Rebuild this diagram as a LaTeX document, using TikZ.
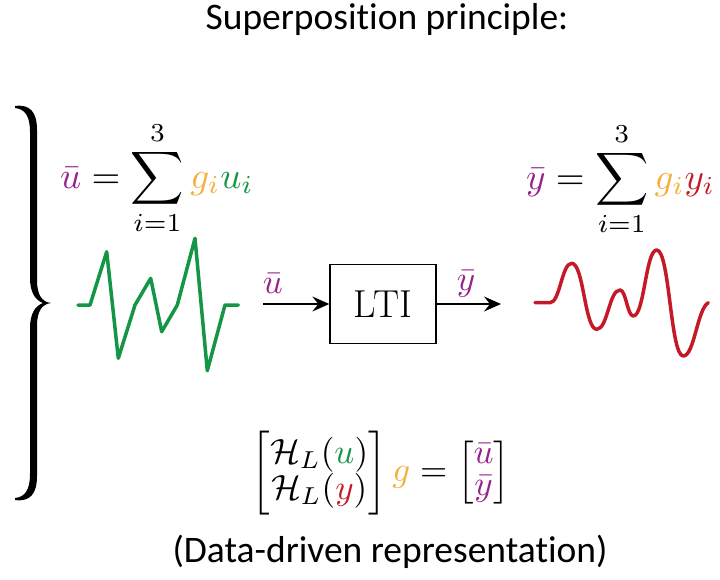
\documentclass[tikz,border=0pt]{standalone}
\usepackage{amsmath}
\usepackage{graphicx}
\usepackage{fontspec}
\setsansfont{Carlito}[Ligatures=NoCommon]
\usetikzlibrary{arrows.meta}
\definecolor{cpurple}{RGB}{150,35,140}
\definecolor{corange}{RGB}{245,175,60}
\definecolor{cgreen}{RGB}{20,150,70}
\definecolor{cred}{RGB}{195,25,40}
\begin{document}
\begin{tikzpicture}[x=1pt,y=-1pt,
  titletext/.style={font=\sffamily\fontsize{37.5}{44}\selectfont, inner sep=0pt},
  mathnode/.style={inner sep=0pt},
  sigline/.style={line width=3.5pt, line join=round, line cap=round},
  arr/.style={line width=1.4pt, -{Stealth[length=17pt,width=15pt,inset=6pt]}},
  ltibox/.style={draw, line width=1.3pt, minimum width=106pt, minimum height=79pt, inner sep=0pt, font=\fontsize{39}{46}\selectfont}]
\useasboundingbox (0,0) rectangle (720,579);

% title and caption
\node[titletext, anchor=base] (title) at (387,29) {Superposition principle:};
\node[titletext, anchor=base] (caption) at (390,562) {(Data-driven representation)};

% brace
\fill[black] (15,106) .. controls (30,104) and (37,112) .. (37,130)
  -- (37,280) .. controls (37,295) and (42,302) .. (51,303)
  .. controls (42,304) and (37,311) .. (37,326)
  -- (37,476) .. controls (37,494) and (30,502) .. (15,500)
  -- (15,498) .. controls (25,497) and (30,490) .. (30,474)
  -- (30,328) .. controls (30,314) and (35,306) .. (43,303)
  .. controls (35,300) and (30,292) .. (30,278)
  -- (30,132) .. controls (30,116) and (25,109) .. (15,108) -- cycle;

% formulas
\node[mathnode, anchor=base west] (sumu) at (60,188)
  {\scalebox{3.7}{$\displaystyle {\color{cpurple}\bar u} = \sum_{i=1}^{3} {\color{corange}g_i}{\color{cgreen}u_i}$}};
\node[mathnode, anchor=base west] (sumy) at (526,189)
  {\scalebox{3.7}{$\displaystyle {\color{cpurple}\bar y} = \sum_{i=1}^{3} {\color{corange}g_i}{\color{cred}y_i}$}};

% input signal
\draw[sigline, cgreen] (78,305) -- (90,305) -- (106.7,251.7) -- (118.3,358.3) -- (135,305)
  -- (150.7,278.3) -- (161.7,331.7) -- (177.3,305) -- (195,238.3) -- (207.3,370.7)
  -- (225,305) -- (238.3,305);

% output signal
\draw[sigline, cred] (535,302.7) -- (550,302.7)
  .. controls +(10,0) and +(-10,0) .. (571.7,263.3)
  .. controls +(12,0) and +(-12,0) .. (596.7,329.3)
  .. controls +(11,0) and +(-11,0) .. (620,290)
  .. controls +(6,0) and +(-6,0) .. (633.3,316)
  .. controls +(11,0) and +(-11,0) .. (656.7,250)
  .. controls +(13,0) and +(-13,0) .. (683.3,356)
  .. controls +(11,0) and +(-11,6) .. (708.3,302.7);

% block
\node[ltibox] (lti) at (383,304) {LTI};
\coordinate (uin) at (263,304);
\coordinate (yout) at (501,304);
\draw[arr] (uin) -- (lti.west);
\draw[arr] (lti.east) -- (yout);
\node[mathnode, anchor=base] (ulab) at (273,293) {\scalebox{3.5}{$\color{cpurple}\bar u$}};
\node[mathnode, anchor=base] (ylab) at (466,290) {\scalebox{3.5}{$\color{cpurple}\bar y$}};

% data-driven representation
\node[mathnode] (hank) at (381,473)
  {\scalebox{3.5}{\fontsize{10}{9}\selectfont$\begin{bmatrix} \mathcal{H}_L({\color{cgreen}u}) \\ \mathcal{H}_L({\color{cred}y}) \end{bmatrix}
   {\color{corange}g} = \begin{bmatrix} {\color{cpurple}\bar u} \\ {\color{cpurple}\bar y} \end{bmatrix}$}};
\end{tikzpicture}
\end{document}
